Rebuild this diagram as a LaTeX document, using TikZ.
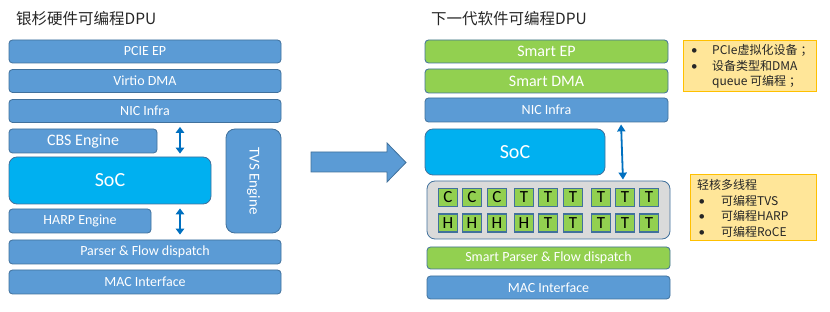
\documentclass[tikz,border=0pt]{standalone}
\usepackage{fontspec}
\setmainfont{Carlito}
\newfontfamily\cjk{Noto Sans CJK SC}
\usetikzlibrary{arrows.meta}
\definecolor{boxblue}{HTML}{5B9BD5}
\definecolor{edgeblue}{HTML}{41719C}
\definecolor{socblue}{HTML}{00B0F0}
\definecolor{lgreen}{HTML}{92D050}
\definecolor{arrblue}{HTML}{0070C0}
\definecolor{notefill}{HTML}{FFE699}
\definecolor{noteedge}{HTML}{FFC000}
\definecolor{cellgray}{HTML}{DADADA}
\definecolor{titlegray}{HTML}{262626}
\newcommand{\bul}{{\rmfamily\fontsize{13}{15.6}\selectfont •}}
\begin{document}
\begin{tikzpicture}[x=1pt,y=-1pt,
  blk/.style={draw=edgeblue,line width=0.8pt,fill=boxblue,rounded corners=3.5pt,inner sep=0pt,
    text=white,font=\fontsize{14}{15}\selectfont},
  grn/.style={blk,fill=lgreen},
  soc/.style={blk,fill=socblue,rounded corners=8pt,font=\fontsize{20}{22}\selectfont},
  cell/.style={draw=edgeblue,line width=1.2pt,fill=lgreen,minimum width=19pt,minimum height=18pt,
    inner sep=0pt,font=\fontsize{17}{18}\selectfont},
  note/.style={draw=noteedge,line width=1pt,fill=notefill},
  notetxt/.style={anchor=north west,inner sep=0pt,text=black!85,font=\cjk\fontsize{12}{15.6}\selectfont},
  title/.style={anchor=west,inner sep=0pt,text=titlegray,font=\cjk\fontsize{15.5}{16}\selectfont},
  updown/.style={arrblue,line width=2.5pt,{Triangle[width=8.5pt,length=6pt]}-{Triangle[width=8.5pt,length=6pt]}},
]
\useasboundingbox (0,0) rectangle (830,312);

% left: hardware DPU
\node[title] (ttlL) at (16,18.5) {银杉硬件可编程DPU};
\node[blk,minimum width=272pt,minimum height=23pt] (pcie) at (145,51.5) {PCIE EP};
\node[blk,minimum width=272pt,minimum height=23pt] (virtio) at (145,81) {Virtio DMA};
\node[blk,minimum width=272pt,minimum height=23pt] (nicL) at (145,111) {NIC Infra};
\node[blk,minimum width=148pt,minimum height=24pt,font=\fontsize{16}{17}\selectfont] (cbs) at (83,141) {CBS Engine};
\node[blk,rotate=-90,rounded corners=9pt,minimum width=104pt,minimum height=55pt,
  font=\fontsize{15}{16}\selectfont] (tvs) at (253.5,181) {TVS Engine};
\node[soc,minimum width=202pt,minimum height=47pt] (socL) at (110,180.5) {SoC};
\node[blk,minimum width=142pt,minimum height=24pt] (harp) at (80,221) {HARP Engine};
\node[blk,minimum width=272pt,minimum height=24pt] (parser) at (145,252) {Parser \& Flow dispatch};
\node[blk,minimum width=272pt,minimum height=24pt] (macL) at (145,282) {MAC Interface};
\draw[updown,shorten <=4pt,shorten >=3pt] ([xshift=35pt]nicL.south) -- ([xshift=70pt]socL.north);
\draw[updown,shorten <=4pt,shorten >=5pt] ([xshift=70pt]socL.south) -- ([xshift=35pt]parser.north);

% big arrow
\draw[draw=edgeblue,fill=boxblue,line width=0.8pt] (311,152) -- (387,152) -- (387,143) -- (406,162.5)
  -- (387,182) -- (387,172) -- (311,172) -- cycle;

% right: software DPU
\node[title] (ttlR) at (431,18.5) {下一代软件可编程DPU};
\node[grn,minimum width=243pt,minimum height=23pt,font=\fontsize{16}{17}\selectfont] (sep) at (546.5,51.5) {Smart EP};
\node[grn,minimum width=243pt,minimum height=24pt,font=\fontsize{16}{17}\selectfont] (sdma) at (546.5,81) {Smart DMA};
\node[blk,minimum width=243pt,minimum height=24pt] (nicR) at (546.5,110) {NIC Infra};
\node[soc,minimum width=180pt,minimum height=46pt] (socR) at (515,152) {SoC};
\node[blk,fill=cellgray,rounded corners=8pt,minimum width=243pt,minimum height=58pt] (cont) at (548.5,210) {};
\foreach \x/\a/\b [count=\i] in {448/C/H,472/C/H,497/C/H,524/T/H,548/T/T,573/T/T,601/T/T,625/T/T,649/T/T}{
  \node[cell] (top\i) at (\x,197.5) {\a};
  \node[cell] (bot\i) at (\x,223) {\b};
}
\node[grn,minimum width=243pt,minimum height=22pt] (sparser) at (548.5,258) {Smart Parser \& Flow dispatch};
\node[blk,minimum width=243pt,minimum height=23pt] (macR) at (548.5,287.5) {MAC Interface};
\draw[arrblue,line width=1.8pt,{Triangle[width=8pt,length=7pt]}-{Triangle[width=8pt,length=7pt]},
  shorten <=2pt,shorten >=1pt] ([xshift=74.5pt]nicR.south) -- ([xshift=74.5pt]cont.north);

% notes
\node[note,minimum width=133pt,minimum height=51pt] (note1) at (749.5,66.5) {};
\node[notetxt] (note1t) at (691,43.5) {\begin{tabular}{@{}p{21pt}@{}l@{}}
  \bul&PCIe虚拟化设备\hspace{3pt}；\\ \bul&设备类型和DMA\\ &queue 可编程\hspace{3pt}；\end{tabular}};
\node[note,minimum width=126pt,minimum height=66pt] (note2) at (753,208) {};
\node[notetxt] (note2t) at (697,178.5) {\begin{tabular}{@{}p{24pt}@{}l@{}}
  \multicolumn{2}{@{}l@{}}{轻核多线程}\\ \hspace{1.5pt}\bul&可编程TVS\\ \hspace{1.5pt}\bul&可编程HARP\\
  \hspace{1.5pt}\bul&可编程RoCE\end{tabular}};
\end{tikzpicture}
\end{document}
